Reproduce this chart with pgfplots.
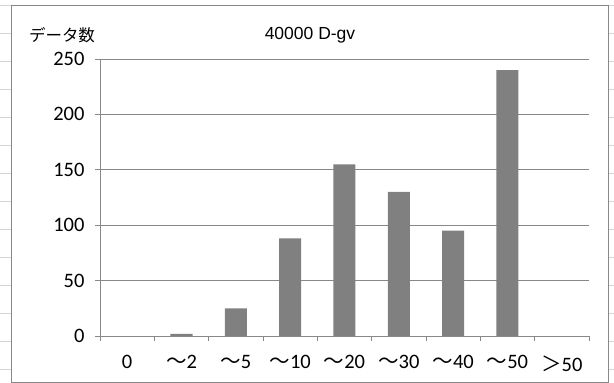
\documentclass[border=0pt]{standalone}
\usepackage{fontspec}
\setmainfont{Carlito}
\newfontfamily\cjk{Noto Sans CJK JP}
\newfontfamily\arial{Liberation Sans}
\usepackage{pgfplots}
\pgfplotsset{compat=1.18}
\definecolor{bargray}{HTML}{808080}
\definecolor{gridgray}{HTML}{888888}
\definecolor{cellgray}{HTML}{D4D4D4}
\begin{document}
\begin{tikzpicture}[x=1pt,y=1pt]
\useasboundingbox (0,0) rectangle (614,383);
\foreach \k in {0,...,13} {
  \draw[cellgray, line width=0.8] (0,{383-5-28*\k}) -- (11,{383-5-28*\k});
  \draw[cellgray, line width=0.8] (608,{383-5-28*\k}) -- (614,{383-5-28*\k});
}
\draw[cellgray, line width=0.8] (0,378) -- (614,378);
\draw[gridgray, line width=0.9] (11,1) rectangle (608,378);
\begin{axis}[
  at={(100pt,47pt)}, anchor=south west,
  scale only axis, width=489pt, height=277pt,
  xmin=-0.5, xmax=8.5, ymin=0, ymax=250,
  ytick={0,50,...,250},
  ymajorgrids, grid style={gridgray, line width=0.9},
  xtick={0,...,8},
  xticklabels={0,{\cjk ～}2,{\cjk ～}5,{\cjk ～}10,{\cjk ～}20,{\cjk ～}30,{\cjk ～}40,{\cjk ～}50,{\cjk ＞}50},
  major x tick style={draw=none},
  minor xtick={-0.5,0.5,...,8.5},
  minor tick length=5pt, major tick length=5pt,
  tick align=outside,
  axis x line*=bottom, axis y line*=left,
  axis line style={gridgray, line width=0.9, -},
  every tick/.style={gridgray, line width=0.9},
  /pgf/number format/assume math mode=true,
  ticklabel style={font=\fontsize{20.5}{22}\selectfont, text=black},
  xticklabel style={yshift=-11pt},
  yticklabel style={xshift=-7pt},
  clip=false,
]
% categories "0" and ">50" have the value 0 and draw no bar
\addplot[ybar, fill=bargray, draw=none, bar width=0.405] coordinates {
  (1,2) (2,25) (3,88) (4,155) (5,130) (6,95) (7,240)
};
\end{axis}
\node[font=\arial\fontsize{17.5}{19}\selectfont] at (310,348) {40000 D-gv};
\node[font=\cjk\fontsize{16.5}{18}\selectfont] at (62,348) {データ数};
\end{tikzpicture}
\end{document}
